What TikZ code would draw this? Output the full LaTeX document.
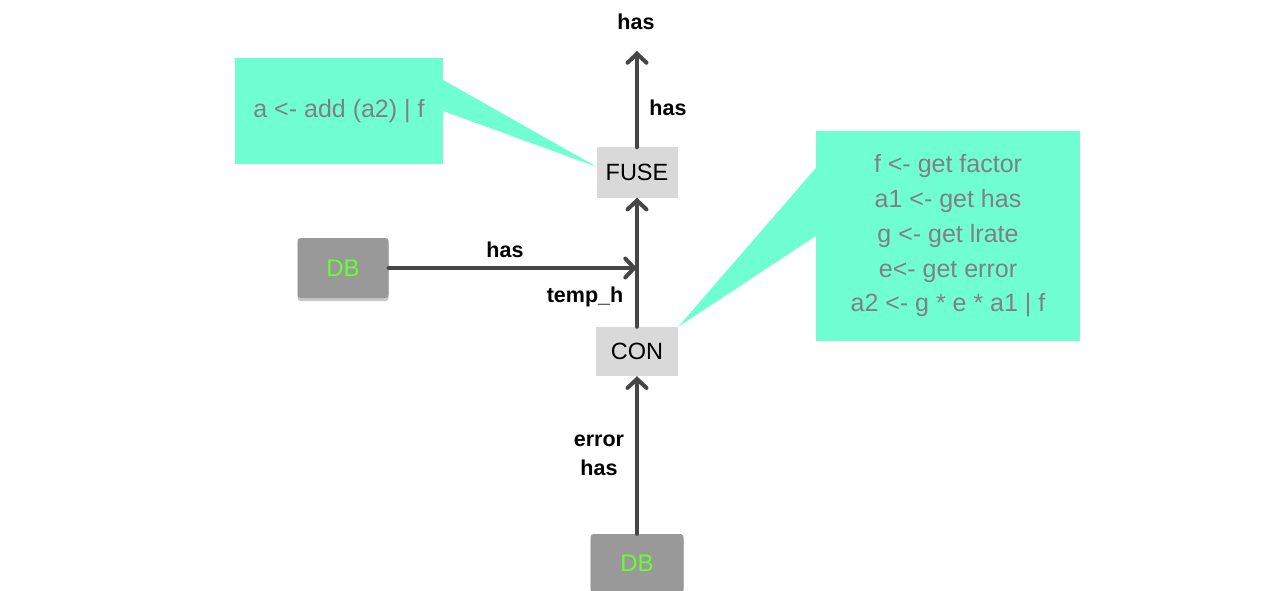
\documentclass[tikz,border=0pt]{standalone}
\usepackage{fontspec}
\setmainfont{Liberation Sans}
\usetikzlibrary{arrows.meta,shadows,backgrounds}

\definecolor{noteteal}{RGB}{111,255,208}
\definecolor{notetext}{RGB}{128,128,128}
\definecolor{opfill}{RGB}{217,217,217}
\definecolor{dbfill}{RGB}{153,153,153}
\definecolor{dbtext}{RGB}{102,255,51}
\definecolor{wire}{RGB}{70,70,70}

\tikzset{
  note/.style={fill=noteteal, draw=none, inner sep=0pt, text=notetext,
    align=center, font=\fontsize{25}{34.7}\selectfont},
  tail/.style={fill=noteteal, draw=none},
  opbox/.style={fill=opfill, draw=none, inner sep=0pt, text=black,
    font=\fontsize{23.5}{28}\selectfont},
  dbbox/.style={fill=dbfill, draw=none, inner sep=0pt, rounded corners=3pt,
    text=dbtext, font=\fontsize{24}{28}\selectfont,
    drop shadow={shadow xshift=0pt, shadow yshift=-3pt, opacity=0.22, fill=black}},
  flow/.style={draw=wire, line width=4pt, line cap=round,
    -{Straight Barb[length=9pt, width=19pt, line cap=round]}},
  lbl/.style={font=\bfseries\fontsize{21.5}{29}\selectfont, text=black,
    inner sep=0pt, align=center}
}

\begin{document}
\begin{tikzpicture}[x=1pt, y=-1pt]
  \clip (0,0) rectangle (1264,591);

  % code notes
  \node[note, minimum width=208pt, minimum height=106pt] (noteL) at (339,111)
    {a <- add (a2) | f};
  \node[note, minimum width=264pt, minimum height=209pt] (noteR) at (948,236)
    {f <- get factor\\a1 <- get has\\g <- get lrate\\e<- get error\\a2 <- g * e * a1 | f};

  % operators
  \node[opbox, minimum width=81pt, minimum height=50pt] (fuse) at (637,172.5) {FUSE};
  \node[opbox, minimum width=82pt, minimum height=49pt] (con) at (637,351.5) {CON};

  % data sources
  \node[dbbox, minimum width=91pt, minimum height=60pt] (dbL) at (343,268) {DB};
  \node[dbbox, minimum width=93pt, minimum height=58pt] (dbB) at (637,563) {DB};

  % note pointers
  \coordinate (tipL) at (597,167);
  \coordinate (tipR) at (con.north east);
  \begin{scope}[on background layer]
    \fill[tail] (noteL.east |- 0,80) -- (tipL) -- (noteL.east |- 0,111) -- cycle;
    \fill[tail] (noteR.west |- 0,168) -- (tipR) -- (noteR.west |- 0,236) -- cycle;
  \end{scope}

  % connectors
  \coordinate (join) at (637,268);
  \coordinate (out) at (637,51);
  \draw[flow] (dbB) -- (con);
  \draw[flow] (con) -- (fuse);
  \draw[flow] (fuse) -- (out);
  \draw[flow] (dbL) -- (join);

  % edge labels
  \node[lbl] (lblOut) at (636,22) {has};
  \node[lbl] (lblFuse) at (668,108) {has};
  \node[lbl] (lblDb) at (505,250) {has};
  \node[lbl] (lblTemp) at (585,297) {temp\_h};
  \node[lbl] (lblErr) at (599,455) {error\\has};
\end{tikzpicture}
\end{document}
